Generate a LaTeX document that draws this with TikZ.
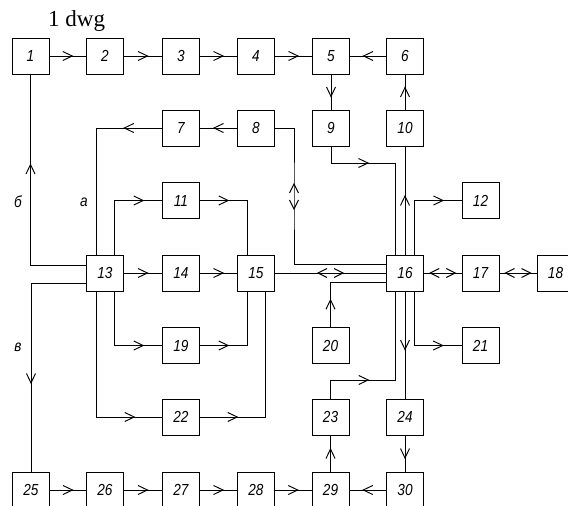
\documentclass[tikz,border=0pt]{standalone}
\usepackage{fontspec}
\setmainfont{Liberation Serif}
\newfontfamily\gostfont{Liberation Sans}[FakeStretch=0.85]
\usetikzlibrary{calc,decorations.markings}
\tikzset{
 ln/.style={line width=0.95pt},
 box/.style={draw, line width=0.95pt, minimum width=37pt, minimum height=36pt, inner sep=0pt, font=\gostfont\itshape\fontsize{16}{16}\selectfont},
 chev/.style={postaction={decorate}, decoration={markings, mark=at position #1 with {\draw[line width=0.95pt] (-5pt,4.5pt) -- (4.5pt,0pt) -- (-5pt,-4.5pt);}}},
 chev/.default=0.5,
 dchev/.style={postaction={decorate}, decoration={markings, mark=at position #1 with {\draw[line width=0.95pt] (3.5pt,4.5pt) -- (12.5pt,0pt) -- (3.5pt,-4.5pt) (-3.5pt,4.5pt) -- (-12.5pt,0pt) -- (-3.5pt,-4.5pt);}}},
 dchev/.default=0.5,
 lbl/.style={font=\gostfont\itshape\fontsize{16}{16}\selectfont, inner sep=0pt}
}
\begin{document}
\begin{tikzpicture}[x=1pt,y=-1pt]
\useasboundingbox (0,0) rectangle (568,506);
\node[anchor=base west, font=\fontsize{23}{23}\selectfont, inner sep=0pt] (title) at (48,27) {1 dwg};
% row 1
\node[box] (n1) at (30.5,56) {1};
\node[box] (n2) at (105,56) {2};
\node[box] (n3) at (181,56) {3};
\node[box] (n4) at (256,56) {4};
\node[box] (n5) at (331,56) {5};
\node[box] (n6) at (405,56) {6};
% row 2
\node[box] (n7) at (181,128) {7};
\node[box] (n8) at (256,128) {8};
\node[box] (n9) at (331,128) {9};
\node[box] (n10) at (405,128) {10};
% row 3
\node[box] (n11) at (181,200.5) {11};
\node[box] (n12) at (480.5,200.5) {12};
% row 4
\node[box] (n13) at (105,273) {13};
\node[box] (n14) at (181,273) {14};
\node[box] (n15) at (256,273) {15};
\node[box] (n16) at (405,273) {16};
\node[box] (n17) at (480.5,273) {17};
\node[box] (n18) at (555.5,273) {18};
% row 5
\node[box] (n19) at (181,345.5) {19};
\node[box] (n20) at (330.5,345.5) {20};
\node[box] (n21) at (480.5,345.5) {21};
% row 6
\node[box] (n22) at (181,417) {22};
\node[box] (n23) at (330.5,417) {23};
\node[box] (n24) at (405,417) {24};
% row 7
\node[box] (n25) at (31,490) {25};
\node[box] (n26) at (105,490) {26};
\node[box] (n27) at (181,490) {27};
\node[box] (n28) at (256,490) {28};
\node[box] (n29) at (330.5,490) {29};
\node[box] (n30) at (405,490) {30};
% labels
\node[lbl] (lb) at (18,202) {б};
\node[lbl] (la) at (84,202) {а};
\node[lbl] (lv) at (18,347) {в};
% corner coordinates
\coordinate (k9) at (395.5,163);
\coordinate (k8) at (294,196);
\coordinate (k23) at (395.5,380);
% straight connectors
\draw[ln,chev] (n1) -- (n2);
\draw[ln,chev] (n2) -- (n3);
\draw[ln,chev] (n3) -- (n4);
\draw[ln,chev] (n4) -- (n5);
\draw[ln,chev] (n6) -- (n5);
\draw[ln,chev] (n5) -- (n9);
\draw[ln,chev] (n8) -- (n7);
\draw[ln,chev] (n10) -- (n6);
\draw[ln,chev] (n16) -- (n10);
\draw[ln,chev] (n13) -- (n14);
\draw[ln,chev] (n14) -- (n15);
\draw[ln,dchev] (n15) -- (n16);
\draw[ln,dchev] (n16) -- (n17);
\draw[ln,dchev] (n17) -- (n18);
\draw[ln,chev] (n16) -- (n24);
\draw[ln,chev] (n24) -- (n30);
\draw[ln,chev] (n29) -- (n23);
\draw[ln,chev] (n25) -- (n26);
\draw[ln,chev] (n26) -- (n27);
\draw[ln,chev] (n27) -- (n28);
\draw[ln,chev] (n28) -- (n29);
\draw[ln,chev] (n30) -- (n29);
% bent connectors
\draw[ln,chev=49pt] (n9.south) |- (k9) -- (k9 |- n16.north);
\draw[ln,chev=78.5pt] ($(n16.north)+(9,0)$) |- (n12.west);
\draw[ln,dchev=87.5pt] (n8.east) -| (k8) |- ($(n16.west)+(0,-9)$);
\draw[ln,chev=22.75pt] (n20.north) |- ($(n16.west)+(0,9)$);
\draw[ln,chev=151.5pt] ($(n13.west)+(0,-8)$) -| (n1.south);
\draw[ln,chev=150.5pt] ($(n13.west)+(0,10)$) -| (n25.north);
\draw[ln,chev=33.25pt] (n7.west) -| ($(n13.north)+(-9,0)$);
\draw[ln,chev=159.25pt] ($(n13.south)+(-9,0)$) |- (n22.west);
\draw[ln,chev=78.75pt] ($(n13.north)+(9,0)$) |- (n11.west);
\draw[ln,chev=78.75pt] ($(n13.south)+(9,0)$) |- (n19.west);
\draw[ln,chev=23.75pt] (n11.east) -| ($(n15.north)+(-9,0)$);
\draw[ln,chev=23.75pt] (n19.east) -| ($(n15.south)+(-9,0)$);
\draw[ln,chev=32.75pt] (n22.east) -| ($(n15.south)+(9,0)$);
\draw[ln,chev=51.75pt] (n23.north) |- (k23) -- (k23 |- n16.south);
\draw[ln,chev=78.25pt] ($(n16.south)+(9,0)$) |- (n21.west);
\end{tikzpicture}
\end{document}
